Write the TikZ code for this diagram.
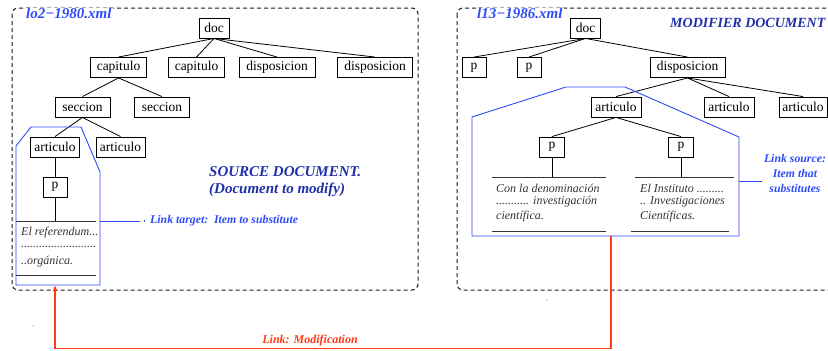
\documentclass[tikz,border=0pt]{standalone}
\usepackage{fontspec}
\setmainfont{Liberation Serif}
\usetikzlibrary{arrows.meta}
\definecolor{linkblue}{HTML}{2F4BF5}
\definecolor{titleblue}{HTML}{1F2FA8}
\definecolor{linkred}{HTML}{FF3A14}
\definecolor{framegray}{HTML}{1A1A1A}
\begin{document}
\begin{tikzpicture}[x=1pt,y=-1pt,
  elem/.style={draw, line width=0.9pt, inner sep=0pt, minimum height=20pt,
    font=\fontsize{13.5}{14}\selectfont},
  edge/.style={line width=0.8pt},
  docframe/.style={draw=framegray, line width=1pt, dash pattern=on 4pt off 3pt, rounded corners=6pt},
  region/.style={draw=linkblue, line width=0.9pt},
  rule/.style={line width=0.9pt, draw=black!80},
  para/.style={font=\fontsize{12}{14.5}\selectfont\itshape, text=black!80, anchor=west, inner sep=0pt},
  fname/.style={font=\fontsize{15}{15}\selectfont\bfseries\itshape, text=linkblue, fill=white,
    inner xsep=1pt, inner ysep=0pt, anchor=base west},
  note/.style={font=\fontsize{11.8}{15}\selectfont\bfseries\itshape, text=linkblue, inner sep=0pt},
  heading/.style={font=\fontsize{15}{18}\selectfont\bfseries\itshape, text=titleblue, inner sep=0pt},
  modlabel/.style={font=\fontsize{12}{14}\selectfont\bfseries\itshape, text=linkred, inner sep=0pt},
]
\useasboundingbox (0,0) rectangle (828,351);

% document frames
\draw[docframe] (12,8) rectangle (418,290);
\draw[docframe] (457,8) rectangle (860,290);
\node[fname] (fnsrc) at (25,18) {lo2−1980.xml};
\node[fname] (fnmod) at (476,18) {l13−1986.xml};

% ---------- source document tree ----------
\node[elem, minimum width=30pt] (ldoc)  at (214,28)    {doc};
\node[elem, minimum width=56pt] (lcap1) at (118.5,67.5) {capitulo};
\node[elem, minimum width=56pt] (lcap2) at (196.5,67.5) {capitulo};
\node[elem, minimum width=76pt] (ldis1) at (277,67.5)  {disposicion};
\node[elem, minimum width=75pt] (ldis2) at (375,67.5)  {disposicion};
\node[elem, minimum width=55pt] (lsec1) at (82.5,107)  {seccion};
\node[elem, minimum width=55pt] (lsec2) at (162,107)   {seccion};
\node[elem, minimum width=49pt] (lart1) at (55,147)    {articulo};
\node[elem, minimum width=49pt] (lart2) at (120.5,147) {articulo};
\node[elem, minimum width=24pt] (lp)    at (55,187)    {p};

\draw[edge] (ldoc.south) -- (lcap1.north);
\draw[edge] (ldoc.south) -- (lcap2.north);
\draw[edge] (ldoc.south) -- (ldis1.north);
\draw[edge] (ldoc.south) -- (ldis2.north);
\draw[edge] (lcap1.south) -- (lsec1.north);
\draw[edge] (lcap1.south) -- (lsec2.north);
\draw[edge] (lsec1.south) -- (lart1.north);
\draw[edge] (lsec1.south) -- (lart2.north);
\draw[edge] (lart1.south) -- (lp.north);

\coordinate (lrtop) at (16,221);
\coordinate (lrbot) at (16,275);
\draw[rule] (lrtop) -- ++(80,0);
\draw[rule] (lrbot) -- ++(80,0);
\draw[edge] (lp.south) -- (lp.south |- lrtop);
\node[para] (lt1) at (21,233) {El referendum...};
\node[para] (lt2) at (21,247) {.........................};
\node[para] (lt3) at (21,262) {..orgánica.};

% link target region
\draw[region] (16,146) -- (31,127) -- (81,127) -- (100,172) -- (100,285) -- (16,285) -- cycle;
\coordinate (ltgt) at (100,221);
\coordinate (ltgtend) at (140,221);
\draw[region] (ltgt) -- (ltgtend);
\fill[linkblue] (143.5,220.3) rectangle (145,221.8);
\node[note, anchor=west] (ltgtlbl) at (150,221) {Link target:\ \ Item to substitute};

\node[heading, anchor=west] (srcA) at (209,172) {SOURCE DOCUMENT.};
\node[heading, anchor=west] (srcB) at (209,190) {(Document to modify)};

% ---------- modifier document tree ----------
\node[elem, minimum width=30pt] (rdoc)  at (585.5,28)  {doc};
\node[elem, minimum width=24pt] (rp1)   at (474,67.5)  {p};
\node[elem, minimum width=24pt] (rp2)   at (529,67.5)  {p};
\node[elem, minimum width=75pt] (rdis)  at (687.5,67.5) {disposicion};
\node[elem, minimum width=50pt] (rart1) at (616,107)   {articulo};
\node[elem, minimum width=50pt] (rart2) at (729,107)   {articulo};
\node[elem, minimum width=48pt] (rart3) at (803,107)   {articulo};
\node[elem, minimum width=25pt] (rpa)   at (552,147)   {p};
\node[elem, minimum width=25pt] (rpb)   at (681,147)   {p};

\draw[edge] (rdoc.south) -- (rp1.north);
\draw[edge] (rdoc.south) -- (rp2.north);
\draw[edge] (rdoc.south) -- (rdis.north);
\draw[edge] (rdis.south) -- (rart1.north);
\draw[edge] (rdis.south) -- (rart2.north);
\draw[edge] (rdis.south) -- (rart3.north);
\draw[edge] (rart1.south) -- (rpa.north);
\draw[edge] (rart1.south) -- (rpb.north);

\coordinate (rratop) at (492,177);
\coordinate (rrbtop) at (635,177);
\draw[rule] (rratop) -- (606,177);
\draw[rule] (492,231) -- (606,231);
\draw[rule] (rrbtop) -- (734,177);
\draw[rule] (631,231) -- (729,231);
\draw[edge] (rpa.south) -- (rpa.south |- rratop);
\draw[edge] (rpb.south) -- (rpb.south |- rrbtop);

\node[para] (ra1) at (496,188) {Con la denominación};
\node[para] (ra2) at (496,202) {........... investigación};
\node[para] (ra3) at (496,217) {científica.};
\node[para] (rb1) at (640,188) {El Instituto .........};
\node[para] (rb2) at (640,202) {.. Investigaciones};
\node[para] (rb3) at (640,217) {Científicas.};

% link source region
\draw[region] (472,117) -- (566,87) -- (625,87) -- (739,137) -- (739,236) -- (472,236) -- cycle;
\coordinate (rsrc) at (739,181);
\coordinate (rsrcend) at (762,181);
\draw[region] (rsrc) -- (rsrcend);
\node[note, align=center] (rsrclbl) at (795,173) {Link source:\\Item that\\substitutes};

\node[heading, anchor=west, font=\fontsize{14}{18}\selectfont\bfseries\itshape] (modA) at (670,23) {MODIFIER DOCUMENT};

% modification link
\coordinate (modfrom) at (611,236);
\coordinate (modto) at (55,285.5);
\draw[linkred, line width=1.6pt, -{Stealth[length=6pt,width=4.5pt]}]
  (modfrom) -- (modfrom |- 0,348.5) -- (modto |- 0,348.5) -- (modto);
\node[modlabel] (modlbl) at (310,341) {Link: Modification};

% stray specks
\fill[black!40] (33,326) circle (0.6);
\fill[black!70] (547,300) circle (0.6);
\end{tikzpicture}
\end{document}
